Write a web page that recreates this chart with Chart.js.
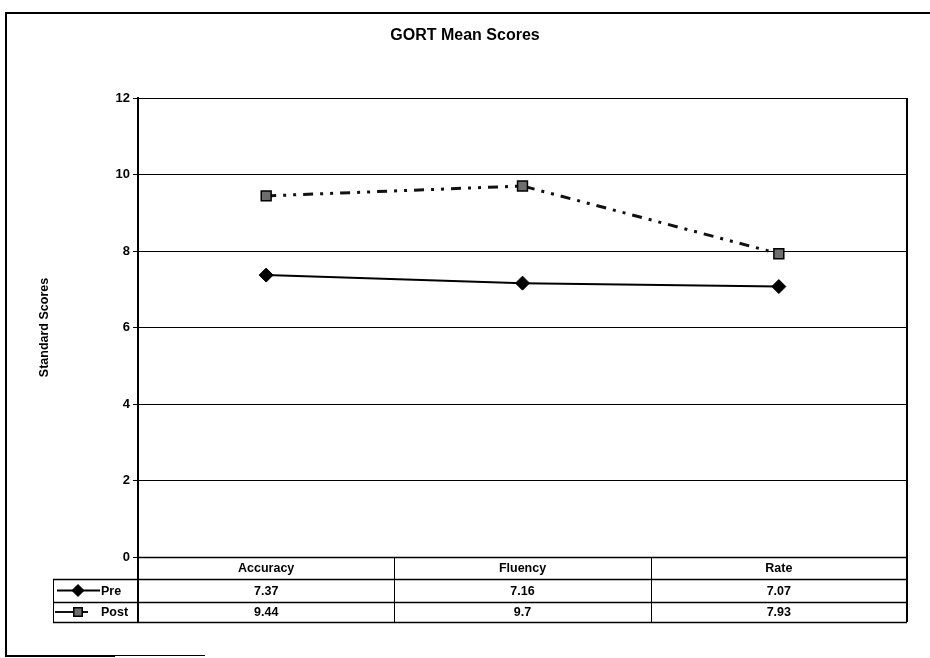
<!DOCTYPE html>
<html><head><meta charset="utf-8">
<script src="https://cdn.jsdelivr.net/npm/chart.js@4/dist/chart.umd.min.js"></script>
<style>
html,body{margin:0;padding:0;background:#fff;}
#wrap{position:relative;width:930px;height:658px;overflow:hidden;}
canvas{position:absolute;left:0;top:0;}
.fr{position:absolute;background:#000;}
</style></head><body>
<div id="wrap"><canvas id="c" width="930" height="658"></canvas>
<div class="fr" style="left:5px;top:12px;width:2px;height:645px"></div>
<div class="fr" style="left:5px;top:12px;width:925px;height:2px"></div>
<div class="fr" style="left:5px;top:655px;width:110px;height:2px"></div>
<div class="fr" style="left:115px;top:655px;width:90px;height:1px"></div>
</div>
<script>
const categories = ['Accuracy', 'Fluency', 'Rate'];
const seriesNames = ['Pre', 'Post'];
const preValues = [7.37, 7.16, 7.07];
const postValues = [9.44, 9.7, 7.93];
const preLabels = ['7.37', '7.16', '7.07'];
const postLabels = ['9.44', '9.7', '7.93'];
const yTicks = [0, 2, 4, 6, 8, 10, 12];

const FONT = '"Liberation Sans", Arial, sans-serif';
Chart.defaults.font.family = FONT;
Chart.defaults.color = '#000';

const tablePlugin = {
  id: 'dataTable',
  afterDraw(chart) {
    const ctx = chart.ctx;
    const xs = chart.scales.x;
    const a = chart.chartArea;
    const rows = [a.bottom, a.bottom + 22, a.bottom + 45, a.bottom + 65];
    const labelLeft = 53;
    const px = categories.map((c, i) => xs.getPixelForValue(i));
    const cols = [a.left, (px[0] + px[1]) / 2, (px[1] + px[2]) / 2, a.right];
    ctx.save();
    ctx.strokeStyle = '#000';
    ctx.lineWidth = 2;
    ctx.beginPath();
    ctx.moveTo(a.right, a.top); ctx.lineTo(a.right, rows[3]);
    ctx.stroke();
    ctx.lineWidth = 1.5;
    ctx.beginPath();
    ctx.moveTo(a.left, rows[0] + 0.5); ctx.lineTo(a.right, rows[0] + 0.5);
    for (let r = 1; r < 4; r++) { ctx.moveTo(labelLeft, rows[r] + 0.5); ctx.lineTo(a.right, rows[r] + 0.5); }
    ctx.stroke();
    ctx.lineWidth = 1;
    ctx.beginPath();
    ctx.moveTo(labelLeft + 0.5, rows[1]); ctx.lineTo(labelLeft + 0.5, rows[3]);
    for (let c = 1; c < 3; c++) { ctx.moveTo(Math.round(cols[c]) + 0.5, rows[0]); ctx.lineTo(Math.round(cols[c]) + 0.5, rows[3]); }
    ctx.stroke();
    ctx.lineWidth = 2;
    ctx.beginPath();
    ctx.moveTo(a.left, rows[0]); ctx.lineTo(a.left, rows[3]);
    ctx.stroke();
    ctx.fillStyle = '#000';
    ctx.font = 'bold 12.5px ' + FONT;
    ctx.textAlign = 'center';
    ctx.textBaseline = 'middle';
    const rowText = [categories, preLabels, postLabels];
    for (let r = 0; r < 3; r++) {
      const cy = (rows[r] + rows[r + 1]) / 2 + 1;
      for (let c = 0; c < 3; c++) {
        ctx.fillText(rowText[r][c], (cols[c] + cols[c + 1]) / 2, cy);
      }
    }
    chart.data.datasets.forEach((ds, i) => {
      const cy = (rows[i + 1] + rows[i + 2]) / 2;
      ctx.save();
      ctx.strokeStyle = ds.borderColor;
      ctx.lineWidth = 2;
      ctx.beginPath();
      if (i === 0) {
        ctx.moveTo(labelLeft + 4, cy); ctx.lineTo(labelLeft + 47, cy);
      } else {
        ctx.moveTo(labelLeft + 2, cy); ctx.lineTo(labelLeft + 20, cy);
        ctx.moveTo(labelLeft + 29, cy); ctx.lineTo(labelLeft + 35, cy);
      }
      ctx.stroke();
      ctx.fillStyle = ds.pointBackgroundColor;
      ctx.strokeStyle = ds.pointBorderColor;
      ctx.lineWidth = ds.pointBorderWidth;
      Chart.helpers.drawPoint(ctx, {pointStyle: ds.pointStyle, rotation: 0, radius: 6, borderWidth: ds.pointBorderWidth}, labelLeft + 25, cy);
      ctx.restore();
      ctx.fillStyle = '#000';
      ctx.textAlign = 'left';
      ctx.fillText(ds.label, labelLeft + 48, cy + 1);
    });
    ctx.restore();
  }
};

new Chart(document.getElementById('c'), {
  type: 'line',
  data: {
    labels: categories,
    datasets: [
      {
        label: seriesNames[0], data: preValues,
        borderColor: '#000', borderWidth: 2,
        pointStyle: 'rectRot', pointRadius: 7,
        pointBackgroundColor: '#000', pointBorderColor: '#000', pointBorderWidth: 1,
        tension: 0
      },
      {
        label: seriesNames[1], data: postValues,
        borderColor: '#111', borderWidth: 3, borderDash: [10, 7, 3, 7, 3, 7],
        pointStyle: 'rect', pointRadius: 7,
        pointBackgroundColor: '#6e6e6e', pointBorderColor: '#000', pointBorderWidth: 1.5,
        tension: 0
      }
    ]
  },
  options: {
    responsive: false,
    animation: false,
    devicePixelRatio: 1,
    layout: { padding: { left: 0, right: 0, top: 4, bottom: 101 } },
    plugins: {
      legend: { display: false },
      tooltip: { enabled: false },
      title: {
        display: true, text: 'GORT Mean Scores', color: '#000',
        font: { size: 16, weight: 'bold' },
        padding: { top: 22, bottom: 52.8 }
      }
    },
    scales: {
      x: { type: 'category', offset: true, display: false },
      y: {
        min: 0, max: 12,
        afterBuildTicks: s => { s.ticks = yTicks.map(v => ({ value: v })); },
        afterFit: s => { s.width = 138; },
        ticks: { color: '#000', font: { size: 13, weight: 'bold' }, padding: 3 },
        grid: { color: '#000', lineWidth: 1, tickLength: 5, drawTicks: true },
        border: { display: true, color: '#000', width: 2 },
        title: {
          display: true, text: 'Standard Scores', color: '#000',
          font: { size: 12.5, weight: 'bold' },
          padding: { top: 37, bottom: 0 }
        }
      },
      yRightSpace: {
        position: 'right', display: true,
        grid: { display: false, drawTicks: false },
        ticks: { display: false },
        border: { display: false },
        afterFit: s => { s.width = 23; }
      }
    }
  },
  plugins: [tablePlugin]
});
</script>
</body></html>
